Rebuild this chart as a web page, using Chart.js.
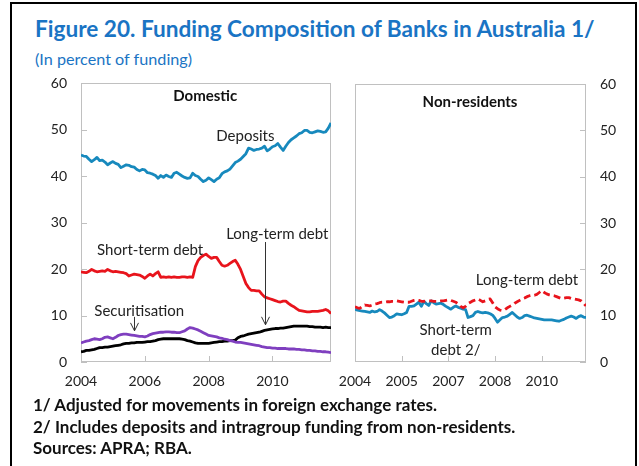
<!DOCTYPE html>
<html>
<head>
<meta charset="utf-8">
<script src="https://cdn.jsdelivr.net/npm/chart.js@4"></script>
<style>
body{margin:0;background:#fff;width:639px;height:466px;overflow:hidden;position:relative;font-family:Lato,"Open Sans",sans-serif;}
#frame{position:absolute;left:10px;top:2px;width:623px;height:480px;border:2px solid #000;border-bottom:none;}
#title{position:absolute;left:35px;top:16px;font-weight:bold;font-size:22.6px;line-height:26px;color:#1a74c4;white-space:nowrap;}
#sub{position:absolute;left:35px;top:49px;font-size:16.2px;line-height:19px;color:#1a74c4;}
.note{position:absolute;left:33px;font-weight:bold;font-size:17px;line-height:20px;color:#111;white-space:nowrap;}
canvas{position:absolute;top:0;}
#left{left:0;}
#right{left:320px;}
</style>
</head>
<body>
<div id="frame"></div>
<div id="title">Figure 20. Funding Composition of Banks in Australia 1/</div>
<div id="sub">(In percent of funding)</div>
<canvas id="left" width="350" height="400"></canvas>
<canvas id="right" width="319" height="400"></canvas>
<div class="note" style="top:395px">1/ Adjusted for movements in foreign exchange rates.</div>
<div class="note" style="top:417px">2/ Includes deposits and intragroup funding from non-residents.</div>
<div class="note" style="top:438px">Sources: APRA; RBA.</div>
<script>
// monthly, Jan 2004 .. Nov 2011 (95 points)

// domestic
let deposits = [44.5,44.3,44.2,43.6,43.1,43.5,44.0,43.3,43.4,43.0,
  42.4,42.8,43.1,42.7,42.5,41.8,42.1,42.4,42.3,42.0,
  41.9,41.4,41.1,41.4,41.3,40.7,40.6,40.4,40.1,39.5,
  40.1,39.7,40.2,39.9,39.7,40.6,40.8,40.4,40.0,39.7,
  39.5,39.6,40.6,40.1,39.9,39.3,38.8,39.1,39.6,39.2,
  38.8,39.3,39.6,40.5,40.9,41.1,41.5,42.2,42.9,43.2,
  43.6,44.2,44.8,46.0,45.8,45.5,45.7,45.8,46.0,46.4,
  45.4,45.8,46.3,46.5,47.0,46.2,45.5,46.4,47.2,47.8,
  48.2,48.6,49.1,49.3,49.8,49.8,49.4,49.3,49.5,49.7,
  49.6,49.4,49.5,50.3,51.4];

let shortTermDebt = [19.4,19.3,19.2,19.5,19.9,19.6,19.4,19.5,19.6,19.5,
  19.9,19.6,19.4,19.5,19.4,19.3,19.2,19.0,18.5,18.7,
  18.9,18.8,18.7,18.4,18.0,18.5,18.9,18.5,19.0,19.4,
  18.2,18.3,18.2,18.3,18.2,18.3,18.2,18.2,18.3,18.3,
  18.2,18.3,18.2,20.5,21.8,22.5,22.9,23.2,22.7,22.3,
  22.5,22.5,21.6,20.8,20.6,20.8,21.2,21.6,21.9,21.0,
  19.9,18.4,16.9,16.0,15.4,15.4,15.3,15.3,14.6,14.0,
  13.8,13.6,13.4,13.2,13.0,12.9,13.1,13.1,12.6,12.2,
  11.9,11.5,11.1,11.0,10.9,10.8,10.8,10.9,10.9,10.9,
  11.0,11.1,11.3,11.0,10.4];

let securitisation = [4.1,4.3,4.5,4.6,4.8,5.0,4.9,4.8,5.0,5.3,
  5.4,5.2,5.0,5.3,5.7,5.9,6.0,6.0,5.9,5.8,
  5.7,5.6,5.5,5.5,5.4,5.6,5.9,6.1,6.2,6.3,
  6.4,6.4,6.5,6.5,6.4,6.4,6.3,6.3,6.5,6.7,
  7.1,7.4,7.3,7.1,6.9,6.6,6.3,6.0,5.7,5.6,
  5.5,5.4,5.2,5.1,4.9,4.8,4.6,4.5,4.3,4.2,
  4.2,4.1,4.0,3.9,3.8,3.7,3.6,3.5,3.3,3.2,
  3.1,3.1,3.0,3.0,2.9,2.9,2.9,2.9,2.8,2.8,
  2.8,2.7,2.7,2.6,2.6,2.5,2.5,2.4,2.4,2.3,
  2.3,2.2,2.2,2.1,2.0];

let longTermDebt = [2.2,2.3,2.5,2.5,2.6,2.7,2.9,3.1,3.1,3.2,
  3.2,3.3,3.4,3.5,3.6,3.7,3.9,4.0,4.0,4.1,
  4.1,4.2,4.2,4.2,4.3,4.4,4.4,4.5,4.6,4.8,
  4.9,5.0,5.0,5.0,5.0,5.0,5.0,5.0,4.9,4.8,
  4.6,4.5,4.3,4.1,4.0,4.0,4.0,4.0,4.0,4.1,
  4.2,4.3,4.4,4.4,4.5,4.5,4.6,4.6,4.7,5.2,
  5.5,5.6,5.8,6.0,6.1,6.2,6.3,6.4,6.6,6.8,
  6.9,7.0,7.1,7.2,7.2,7.3,7.3,7.4,7.5,7.6,
  7.7,7.7,7.7,7.7,7.7,7.7,7.6,7.6,7.5,7.5,
  7.5,7.4,7.5,7.4,7.4];

// non-residents
let nrLongTerm = [11.9,11.7,11.6,12.0,12.3,12.2,12.1,12.3,12.5,12.6,
  12.8,12.9,12.9,13.0,13.0,13.1,13.1,13.2,13.1,13.0,
  12.9,12.9,12.9,13.1,13.3,13.4,13.3,13.1,13.1,13.2,
  13.2,13.2,13.1,13.1,13.1,13.2,13.2,13.3,13.4,13.3,
  13.1,12.9,12.5,12.0,11.7,12.0,12.6,12.9,13.2,13.4,
  13.6,13.3,13.0,13.2,13.5,13.6,12.8,11.9,11.5,11.2,
  11.1,11.3,11.7,12.0,12.3,12.7,13.0,13.3,13.6,13.8,
  14.1,14.3,14.4,14.4,14.6,15.0,15.4,15.0,14.7,14.5,
  14.4,14.3,14.1,13.9,13.7,13.8,13.9,13.9,13.7,13.6,
  13.5,13.4,13.2,12.7,12.1];

let nrShortTerm = [11.4,11.2,11.1,11.0,10.9,10.8,10.7,11.0,10.8,10.9,
  11.3,11.0,10.6,10.1,9.6,9.7,10.0,10.4,10.3,10.2,
  10.4,10.7,12.0,12.0,12.1,12.5,12.9,12.0,13.1,12.6,
  12.2,13.2,12.8,12.5,12.6,12.7,12.4,12.0,11.7,11.4,
  11.8,12.1,11.8,11.6,11.4,11.3,9.6,9.8,10.0,10.7,
  10.9,10.7,10.6,10.7,10.6,10.4,10.1,9.4,8.6,9.1,
  9.6,9.7,9.9,10.3,10.7,10.2,9.7,9.4,9.6,10.0,
  10.1,9.9,9.7,9.5,9.4,9.3,9.2,9.1,9.1,9.1,
  9.1,9.0,8.9,8.8,9.0,9.2,9.5,9.7,9.9,9.7,
  9.4,9.8,10.0,9.7,9.6];

// x tick positions (month index) and their labels
let leftTickIdx = [0, 24, 48, 72];
let leftTickText = ['2004', '2006', '2008', '2010'];
let rightTickIdx = [0, 19, 38, 57, 76];
let rightTickText = ['2004', '2005', '2007', '2008', '2010'];
let yTicks = [0, 10, 20, 30, 40, 50, 60];

Chart.defaults.font.family = 'Lato, "Open Sans", sans-serif';
Chart.defaults.font.size = 14;
Chart.defaults.color = '#222';

function pts(arr) {
  return arr.map((v, i) => ({x: i, y: v}));
}

// box, inward ticks, labels and arrows
const panelDeco = {
  id: 'panelDeco',
  beforeDatasetsDraw(chart, args, opts) {
    const {ctx, chartArea: a, scales: {x, y}} = chart;
    ctx.save();
    ctx.strokeStyle = '#c0c0c0';
    ctx.lineWidth = 1;
    ctx.strokeRect(a.left + 0.5, a.top + 0.5, a.width - 1, a.height - 1);
    ctx.beginPath();
    x.ticks.forEach((t) => {
      let px = Math.round(x.getPixelForValue(t.value)) + 0.5;
      ctx.moveTo(px, a.bottom);
      ctx.lineTo(px, a.bottom - 6);
    });
    y.ticks.forEach((t) => {
      let py = Math.round(y.getPixelForValue(t.value)) + 0.5;
      if (opts.side == 'left') {
        ctx.moveTo(a.left, py); ctx.lineTo(a.left + 6, py);
      } else {
        ctx.moveTo(a.right, py); ctx.lineTo(a.right - 6, py);
      }
    });
    ctx.stroke();
    ctx.restore();
  },
  afterDatasetsDraw(chart, args, opts) {
    const {ctx, scales: {x, y}} = chart;
    ctx.save();
    ctx.textAlign = 'center';
    ctx.textBaseline = 'middle';
    ctx.fillStyle = '#111';
    ctx.font = 'bold 15px Lato, "Open Sans", sans-serif';
    ctx.fillText(opts.head.t, x.getPixelForValue(opts.head.x), y.getPixelForValue(opts.head.y));
    ctx.fillStyle = '#222';
    ctx.font = '15px Lato, "Open Sans", sans-serif';
    opts.labels.forEach(l => {
      ctx.fillText(l.t, x.getPixelForValue(l.x), y.getPixelForValue(l.y));
    });
    ctx.strokeStyle = '#333';
    ctx.lineWidth = 1;
    opts.arrows.forEach(ar => {
      let px = Math.round(x.getPixelForValue(ar.x)) + 0.5;
      let y1 = y.getPixelForValue(ar.y1), y2 = y.getPixelForValue(ar.y2);
      ctx.beginPath();
      ctx.moveTo(px, y1); ctx.lineTo(px, y2);
      ctx.moveTo(px - 4, y2 - 8); ctx.lineTo(px, y2); ctx.lineTo(px + 4, y2 - 8);
      ctx.stroke();
    });
    ctx.restore();
  }
};

function makeScales(side, tickIdx, tickText, yWidth) {
  return {
    x: {
      type: 'linear', min: 0, max: 94,
      grid: {display: false, drawTicks: false},
      border: {display: false},
      afterBuildTicks: s => { s.ticks = tickIdx.map(v => ({value: v})); },
      afterFit: s => { s.height = 38; },
      ticks: {
        padding: 11, maxRotation: 0, autoSkip: false,
        callback: v => tickText[tickIdx.indexOf(v)]
      }
    },
    y: {
      position: side, min: 0, max: 60,
      grid: {display: false, drawTicks: false},
      border: {display: false},
      afterBuildTicks: s => { s.ticks = yTicks.map(v => ({value: v})); },
      afterFit: s => { s.width = yWidth; },
      ticks: {padding: 14}
    }
  };
}

function line(data, color, dash) {
  return {
    data: pts(data), borderColor: color, borderWidth: 2.8,
    borderDash: dash || [], pointRadius: 0, tension: 0,
    borderJoinStyle: 'round', fill: false
  };
}

new Chart('left', {
  type: 'line',
  data: {
    datasets: [
      line(deposits, '#1789bd'),
      line(shortTermDebt, '#e8141c'),
      line(securitisation, '#7f3fbf'),
      line(longTermDebt, '#000000')
    ]
  },
  options: {
    responsive: false, animation: false, devicePixelRatio: 1,
    layout: {padding: {top: 83, right: 19, left: 0, bottom: 0}},
    scales: makeScales('left', leftTickIdx, leftTickText, 81),
    plugins: {
      legend: {display: false}, tooltip: {enabled: false},
      panelDeco: {
        side: 'left',
        head: {t: 'Domestic', x: 46.7, y: 57.1},
        labels: [
          {t: 'Deposits', x: 61.8, y: 48.6},
          {t: 'Short-term debt', x: 26, y: 24.1},
          {t: 'Long-term debt', x: 73.8, y: 27.6},
          {t: 'Securitisation', x: 21.9, y: 11.0}
        ],
        arrows: [
          {x: 69.3, y1: 25.8, y2: 8.0},
          {x: 20, y1: 9.7, y2: 6.7}
        ]
      }
    }
  },
  plugins: [panelDeco]
});

new Chart('right', {
  type: 'line',
  data: {
    datasets: [
      line(nrLongTerm, '#e8141c', [7, 4]),
      line(nrShortTerm, '#1789bd')
    ]
  },
  options: {
    responsive: false, animation: false, devicePixelRatio: 1,
    layout: {padding: {top: 84, right: 0, left: 35, bottom: 0}},
    scales: makeScales('right', rightTickIdx, rightTickText, 53),
    plugins: {
      legend: {display: false}, tooltip: {enabled: false},
      panelDeco: {
        side: 'right',
        head: {t: 'Non-residents', x: 46.8, y: 56.0},
        labels: [
          {t: 'Long-term debt', x: 70, y: 17.6},
          {t: 'Short-term', x: 41, y: 6.9},
          {t: 'debt 2/', x: 41, y: 2.6}
        ],
        arrows: []
      }
    }
  },
  plugins: [panelDeco]
});
</script>
</body>
</html>
